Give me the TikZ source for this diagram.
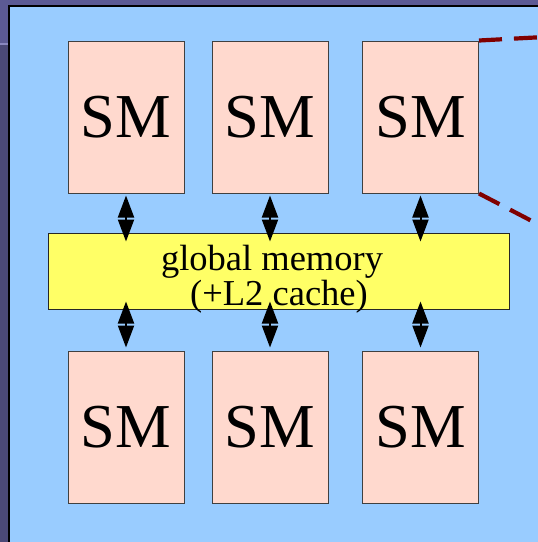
\documentclass[tikz,border=0pt]{standalone}
\usepackage{fontspec}
\setmainfont{Liberation Serif}
\usetikzlibrary{arrows.meta,calc}

\definecolor{frameA}{HTML}{5C5A94}
\definecolor{frameB}{HTML}{4B4977}
\definecolor{frameLine}{HTML}{8A88C0}
\definecolor{panel}{HTML}{99CCFF}
\definecolor{smfill}{HTML}{FFD9CE}
\definecolor{memfill}{HTML}{FFFF66}
\definecolor{zoomline}{HTML}{800000}

\tikzset{
  smbox/.style={draw=black!75, line width=1pt, fill=smfill,
    minimum width=116pt, minimum height=152pt, inner sep=0pt,
    font=\fontsize{62.5}{62.5}\selectfont},
  membox/.style={draw=black!85, line width=1pt, fill=memfill,
    minimum width=461pt, minimum height=76pt, inner sep=0pt},
  memtext/.style={anchor=base, inner sep=0pt, font=\fontsize{36.5}{36.5}\selectfont},
  link/.style={line width=2pt,
    {Triangle[width=16pt,length=22pt]}-{Triangle[width=16pt,length=22pt]}},
  zoomedge/.style={draw=zoomline, line width=4.2pt, dash pattern=on 23pt off 12pt}
}

\begin{document}
\begin{tikzpicture}[x=1pt,y=-1pt]
  \useasboundingbox (0,0) rectangle (538,542);
  \clip (0,0) rectangle (538,542);

  % slide frame
  \fill[frameB] (0,0) rectangle (538,542);
  \fill[frameA] (0,0) rectangle (538,43);
  \fill[frameLine] (0,43) rectangle (9,45);

  % light blue panel
  \fill[panel] (9,6) rectangle (560,560);
  \draw[black, line width=1.4pt] (9,560) -- (9,6) -- (560,6);

  % streaming multiprocessors
  \node[smbox] (t1) at (126,117) {SM};
  \node[smbox] (t2) at (270,117) {SM};
  \node[smbox] (t3) at (420.5,117) {SM};
  \node[smbox] (b1) at (126,427) {SM};
  \node[smbox] (b2) at (270,427) {SM};
  \node[smbox] (b3) at (420.5,427) {SM};

  % global memory
  \node[membox] (gm) at (278.5,271) {};
  \node[memtext] (gml1) at (272,270) {global memory};
  \node[memtext] (gml2) at (279,305) {(+L2 cache)};

  % links between the SMs and global memory
  \foreach \s in {1,2,3}{
    \draw[link] ($(t\s.south)+(0,2)$) -- ($(t\s.south |- gm.north)+(0,9)$);
    \draw[link] ($(b\s.north |- gm.south)+(0,-8)$) -- ($(b\s.north)+(0,-3)$);
  }

  % zoom-out lines from the top right SM
  \coordinate (zt) at (600,34);
  \coordinate (zb) at (600,256.5);
  \draw[zoomedge] (t3.north east) -- (zt);
  \draw[zoomedge] (t3.south east) -- (zb);
\end{tikzpicture}
\end{document}
